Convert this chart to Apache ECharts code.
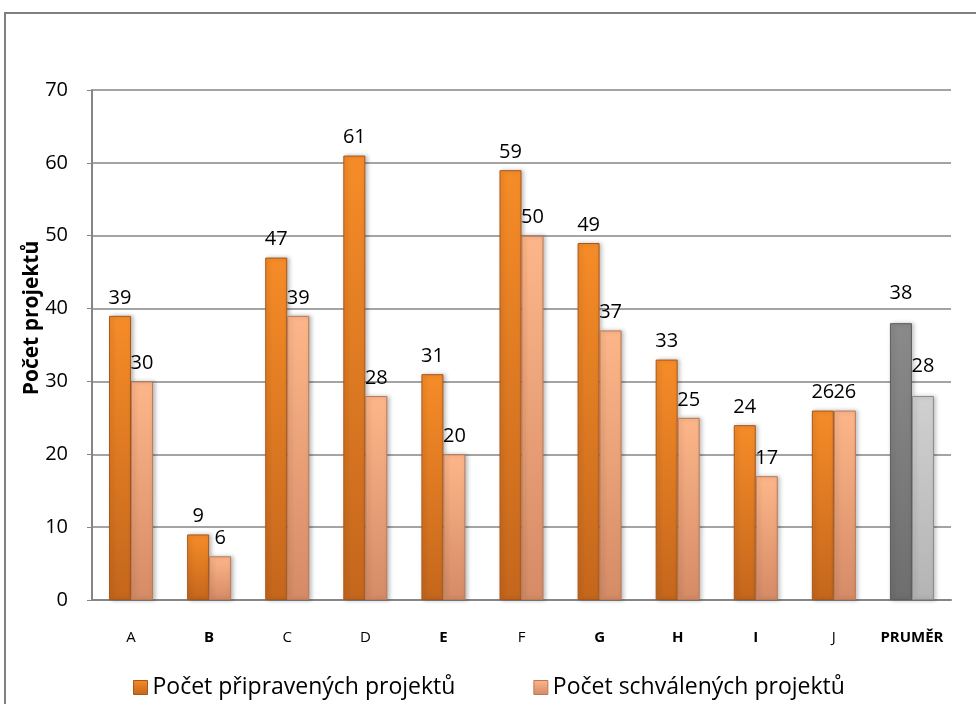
<!DOCTYPE html>
<html>
<head>
<meta charset="utf-8">
<script src="https://cdn.jsdelivr.net/npm/echarts@6/dist/echarts.min.js"></script>
<style>
html,body{margin:0;padding:0;background:#fff;}
#chart{width:976px;height:704px;}
</style>
</head>
<body>
<div id="chart"></div>
<script>
// Categories and values
var categories = ['A', 'B', 'C', 'D', 'E', 'F', 'G', 'H', 'I', 'J', 'PRUMĚR'];
var boldCategories = ['B', 'E', 'G', 'H', 'I', 'PRUMĚR'];
var pripravene = [39, 9, 47, 61, 31, 59, 49, 33, 24, 26, 38];
var schvalene = [30, 6, 39, 28, 20, 50, 37, 25, 17, 26, 28];
var seriesNames = ['Počet připravených projektů', 'Počet schválených projektů'];
var yTicks = [0, 10, 20, 30, 40, 50, 60, 70];
var yTitle = 'Počet projektů';

var font = '"Open Sans", "Noto Sans", sans-serif';

function grad(top, bottom) {
  return new echarts.graphic.LinearGradient(0, 0, 0, 1, [
    { offset: 0, color: top },
    { offset: 1, color: bottom }
  ]);
}

var orangeFill = grad('#f68c28', '#c4661c');
var lightFill = grad('#fdb689', '#d58b66');
var grayDark = grad('#8a8a8a', '#6e6e6e');
var grayLight = grad('#d0d0d0', '#b4b4b4');

function makeData(values, fill, avgFill, border, avgBorder) {
  return values.map(function (v, i) {
    var avg = i === values.length - 1;
    var d = {
      value: v,
      itemStyle: {
        color: avg ? avgFill : fill,
        borderColor: avg ? avgBorder : border,
        borderWidth: 1
      }
    };
    if (avg) d.label = { distance: 20 };
    return d;
  });
}

var valueLabel = {
  show: true,
  position: 'top',
  distance: 8,
  fontFamily: font,
  fontSize: 20,
  color: '#000'
};

var chart = echarts.init(document.getElementById('chart'));
chart.setOption({
  animation: false,
  backgroundColor: '#ffffff',
  graphic: [
    {
      type: 'rect',
      shape: { x: 5, y: 13, width: 1000, height: 720 },
      style: { fill: 'none', stroke: '#808080', lineWidth: 2 }
    },
    {
      type: 'text',
      x: 32,
      y: 318,
      rotation: Math.PI / 2,
      style: {
        text: yTitle,
        fontFamily: font,
        fontSize: 21,
        fontWeight: 'bold',
        fill: '#000',
        align: 'center',
        verticalAlign: 'middle'
      }
    }
  ],
  grid: { left: 92, right: 25, top: 90, bottom: 104, containLabel: false },
  legend: {
    data: [
      { name: seriesNames[0], itemStyle: { color: orangeFill, borderColor: '#a9561a', borderWidth: 1 } },
      { name: seriesNames[1], itemStyle: { color: lightFill, borderColor: '#b97a58', borderWidth: 1 } }
    ],
    left: 128,
    bottom: 0,
    icon: 'rect',
    itemWidth: 14,
    itemHeight: 14,
    itemGap: 78,
    textStyle: { fontFamily: font, fontSize: 23, color: '#000' }
  },
  xAxis: {
    type: 'category',
    data: categories,
    axisLine: { lineStyle: { color: '#868686', width: 2 } },
    axisTick: { show: false },
    axisLabel: {
      interval: 0,
      margin: 30,
      fontFamily: font,
      fontSize: 15,
      color: '#000',
      formatter: function (v) {
        return boldCategories.indexOf(v) >= 0 ? '{b|' + v + '}' : v;
      },
      rich: { b: { fontWeight: 'bold', fontFamily: font, fontSize: 15, color: '#000' } }
    }
  },
  yAxis: {
    type: 'value',
    min: yTicks[0],
    max: yTicks[yTicks.length - 1],
    interval: 10,
    axisLine: { show: true, lineStyle: { color: '#868686', width: 2 } },
    axisTick: { show: true, length: 5, lineStyle: { color: '#868686' } },
    axisLabel: { margin: 24, fontFamily: font, fontSize: 20, color: '#000' },
    splitLine: { lineStyle: { color: '#868686', width: 1.5 } }
  },
  series: [
    {
      name: seriesNames[0],
      type: 'bar',
      barWidth: 22,
      barGap: '0%',
      data: makeData(pripravene, orangeFill, grayDark, '#a9561a', '#5e5e5e'),
      itemStyle: { shadowColor: 'rgba(0,0,0,0.25)', shadowBlur: 4, shadowOffsetX: 2 },
      label: valueLabel
    },
    {
      name: seriesNames[1],
      type: 'bar',
      barWidth: 22,
      data: makeData(schvalene, lightFill, grayLight, '#b97a58', '#8c8c8c'),
      itemStyle: { shadowColor: 'rgba(0,0,0,0.25)', shadowBlur: 4, shadowOffsetX: 2 },
      label: valueLabel
    }
  ]
});
</script>
</body>
</html>
